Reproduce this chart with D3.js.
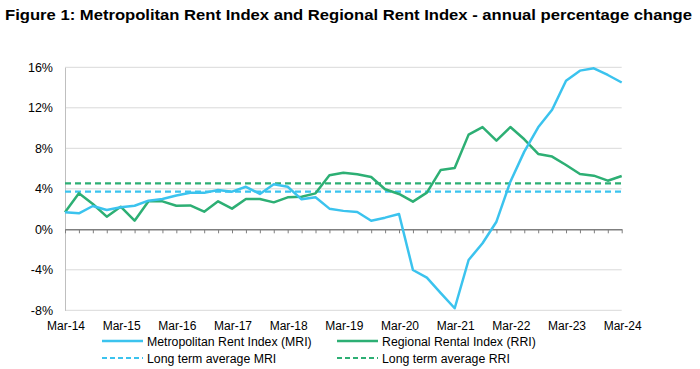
<!DOCTYPE html>
<html><head><meta charset="utf-8">
<script src="https://cdn.jsdelivr.net/npm/d3@7/dist/d3.min.js"></script>
<style>body{margin:0;background:#fff}svg{display:block}</style>
</head><body><svg id="c" width="700" height="369"></svg>
<script>
const tickLabels = ["Mar-14","Mar-15","Mar-16","Mar-17","Mar-18","Mar-19","Mar-20","Mar-21","Mar-22","Mar-23","Mar-24"];
const yTicks = [-8,-4,0,4,8,12,16];
const mri = [1.68,1.58,2.3,1.9,2.17,2.33,2.83,3.0,3.33,3.6,3.6,3.88,3.72,4.2,3.49,4.44,4.2,2.96,3.16,2.04,1.82,1.71,0.85,1.15,1.51,-4.02,-4.78,-6.3,-7.8,-3.03,-1.38,0.75,4.7,7.67,10.07,11.8,14.68,15.67,15.9,15.24,14.5];
const rri = [1.68,3.55,2.5,1.25,2.23,0.85,2.76,2.76,2.33,2.36,1.74,2.76,2.04,3.0,3.0,2.66,3.16,3.22,3.55,5.33,5.58,5.43,5.17,3.95,3.49,2.73,3.62,5.86,6.05,9.35,10.1,8.75,10.1,8.89,7.44,7.18,6.35,5.46,5.3,4.8,5.26];
const mriAvg = 3.72;
const rriAvg = 4.54;
const seriesNames = ["Metropolitan Rent Index (MRI)","Regional Rental Index (RRI)","Long term average MRI","Long term average RRI"];
const blue = "#3BC3EE", green = "#2DAF74";

const svg = d3.select("#c");
const x = d3.scaleLinear().domain([0, mri.length-1]).range([65, 621.7]);
const y = d3.scaleLinear().domain([-8,16]).range([310.3, 67.3]);
const font = "Liberation Sans, Arial, sans-serif";

// title
const title = svg.append("text").attr("x",5).attr("y",20)
  .attr("font-family",font).attr("font-weight","bold").attr("font-size",14.5)
  .attr("fill","#000").text("Figure 1: Metropolitan Rent Index and Regional Rent Index - annual percentage change");
const tw = title.node().getComputedTextLength();
if (Math.abs(tw-687)>3) title.attr("textLength",687).attr("lengthAdjust","spacingAndGlyphs");

// gridlines
svg.append("g").selectAll("line").data(yTicks.filter(d=>d!==0)).join("line")
  .attr("x1",65).attr("x2",621.7).attr("y1",d=>y(d)).attr("y2",d=>y(d))
  .attr("stroke","#d9d9d9").attr("stroke-width",1);

// y axis
const yAxis = d3.axisLeft(y).tickValues(yTicks).tickFormat(d=>d+"%").tickSize(0).tickPadding(12);
const gy = svg.append("g").attr("transform","translate(65,0)").call(yAxis);
gy.select(".domain").attr("stroke","#bfbfbf");
gy.selectAll("text").attr("font-family",font).attr("font-size",12.5).attr("fill","#000");

// x axis at 0
const xAxis = d3.axisBottom(x).tickValues(d3.range(0,mri.length)).tickFormat("").tickSize(4).tickSizeOuter(0);
const gx = svg.append("g").attr("transform",`translate(0,${y(0)})`).call(xAxis);
gx.select(".domain").attr("stroke","#7f7f7f").attr("stroke-width",1.5);
gx.selectAll(".tick line").attr("stroke","#7f7f7f");

// x labels at bottom
svg.append("g").selectAll("text").data(tickLabels).join("text")
  .attr("x",(d,i)=>x(i*4)+1).attr("y",329.5).attr("text-anchor","middle")
  .attr("font-family",font).attr("font-size",12).attr("fill","#000").text(d=>d);

// averages
svg.append("line").attr("x1",65).attr("x2",621.7).attr("y1",y(rriAvg)).attr("y2",y(rriAvg))
  .attr("stroke",green).attr("stroke-width",2.2).attr("stroke-dasharray","6,4");
svg.append("line").attr("x1",65).attr("x2",621.7).attr("y1",y(mriAvg)).attr("y2",y(mriAvg))
  .attr("stroke",blue).attr("stroke-width",2.2).attr("stroke-dasharray","6,4");

const line = d3.line().x((d,i)=>x(i)).y(d=>y(d));
svg.append("path").datum(rri).attr("d",line).attr("fill","none").attr("stroke",green).attr("stroke-width",2.5).attr("stroke-linejoin","round");
svg.append("path").datum(mri).attr("d",line).attr("fill","none").attr("stroke",blue).attr("stroke-width",2.5).attr("stroke-linejoin","round");

// legend
const leg = [
  {name:seriesNames[0],c:blue,dash:null,x:102,y:341},
  {name:seriesNames[1],c:green,dash:null,x:337,y:341},
  {name:seriesNames[2],c:blue,dash:"5,3",x:102,y:358},
  {name:seriesNames[3],c:green,dash:"5,3",x:337,y:358}];
const lg = svg.append("g").selectAll("g").data(leg).join("g");
lg.append("line").attr("x1",d=>d.x).attr("x2",d=>d.x+41).attr("y1",d=>d.y).attr("y2",d=>d.y)
  .attr("stroke",d=>d.c).attr("stroke-width",d=>d.dash?2.2:2.5).attr("stroke-dasharray",d=>d.dash);
lg.append("text").attr("x",d=>d.x+45).attr("y",d=>d.y+4.5).attr("font-family",font).attr("font-size",12.3)
  .attr("fill","#000").text(d=>d.name);
</script></body></html>
